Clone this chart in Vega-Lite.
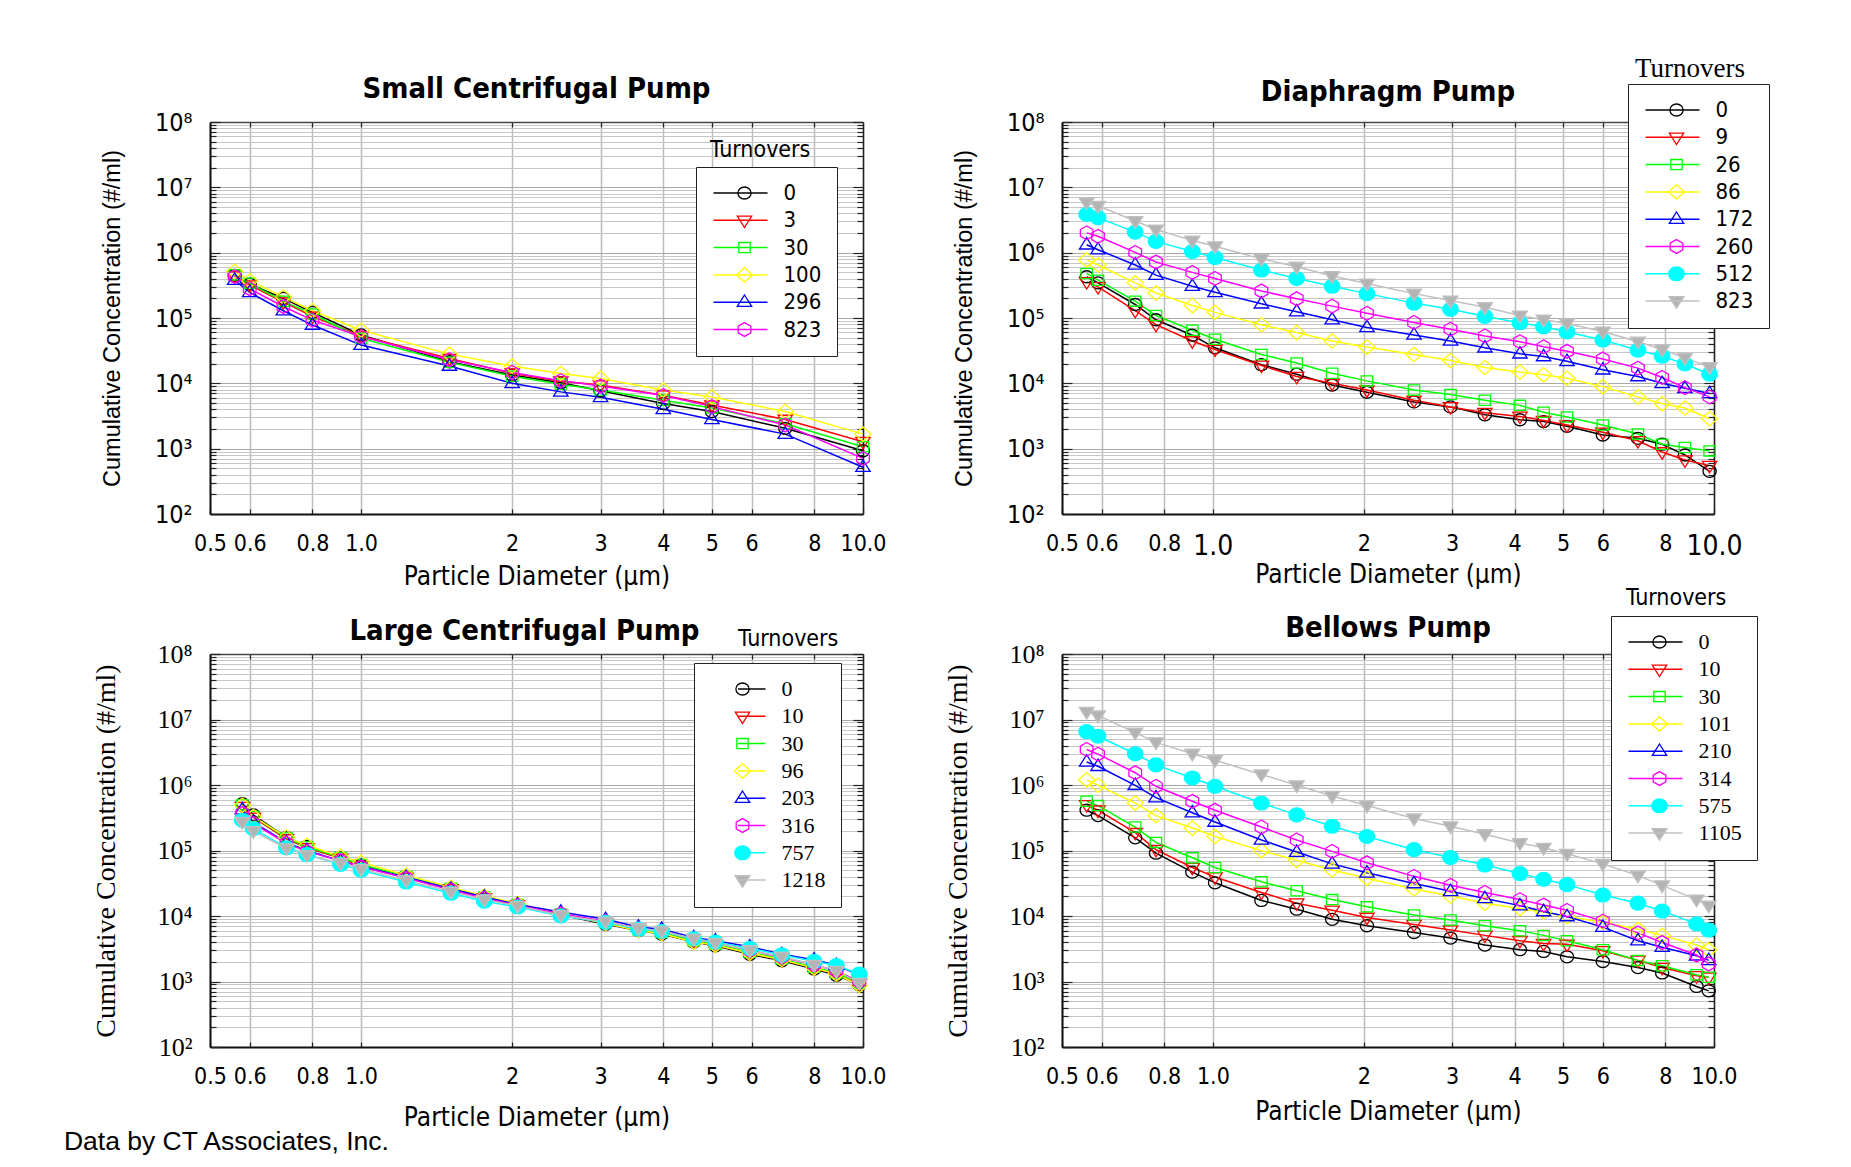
{
  "$schema": "https://vega.github.io/schema/vega-lite/v6.json",
  "background": "white",
  "padding": {"left": 63, "top": 75, "right": 10, "bottom": 10},
  "title": {
    "text": "Data by CT Associates, Inc.",
    "orient": "bottom", "anchor": "start", "frame": "bounds",
    "font": "Liberation Sans, Arial, sans-serif", "fontSize": 26.5, "fontWeight": "normal",
    "color": "black", "baseline": "alphabetic", "offset": 20, "dx": -29
  },
  "columns": 2,
  "bounds": "flush",
  "spacing": {"row": 140, "column": 199},
  "resolve": {"scale": {"color": "independent", "stroke": "independent", "shape": "independent", "fill": "independent"}},
  "config": {
    "view": {"stroke": null},
    "axis": {"labelOverlap": false, "labelFlush": false},
    "legend": {"labelLimit": 200}
  },
  "datasets": {
    "small": [
      {"t":"0","d":0.56,"c":450000},{"t":"0","d":0.6,"c":330000},{"t":"0","d":0.7,"c":200000},{"t":"0","d":0.8,"c":122000},{"t":"0","d":1,"c":55000},{"t":"0","d":1.5,"c":21400},{"t":"0","d":2,"c":13400},{"t":"0","d":2.5,"c":10200},{"t":"0","d":3,"c":7700},{"t":"0","d":4,"c":4900},{"t":"0","d":5,"c":3700},{"t":"0","d":7,"c":2050},{"t":"0","d":10,"c":930},
      {"t":"3","d":0.56,"c":440000},{"t":"3","d":0.6,"c":320000},{"t":"3","d":0.7,"c":175000},{"t":"3","d":0.8,"c":106000},{"t":"3","d":1,"c":53000},{"t":"3","d":1.5,"c":24000},{"t":"3","d":2,"c":14300},{"t":"3","d":2.5,"c":10800},{"t":"3","d":3,"c":9400},{"t":"3","d":4,"c":6600},{"t":"3","d":5,"c":4650},{"t":"3","d":7,"c":2800},{"t":"3","d":10,"c":1280},
      {"t":"30","d":0.56,"c":460000},{"t":"30","d":0.6,"c":340000},{"t":"30","d":0.7,"c":180000},{"t":"30","d":0.8,"c":115000},{"t":"30","d":1,"c":49000},{"t":"30","d":1.5,"c":21000},{"t":"30","d":2,"c":12800},{"t":"30","d":2.5,"c":9700},{"t":"30","d":3,"c":7900},{"t":"30","d":4,"c":5500},{"t":"30","d":5,"c":4200},{"t":"30","d":7,"c":2400},{"t":"30","d":10,"c":1070},
      {"t":"100","d":0.56,"c":520000},{"t":"100","d":0.6,"c":370000},{"t":"100","d":0.7,"c":210000},{"t":"100","d":0.8,"c":129000},{"t":"100","d":1,"c":65000},{"t":"100","d":1.5,"c":28000},{"t":"100","d":2,"c":18400},{"t":"100","d":2.5,"c":14200},{"t":"100","d":3,"c":11900},{"t":"100","d":4,"c":7900},{"t":"100","d":5,"c":6200},{"t":"100","d":7,"c":3700},{"t":"100","d":10,"c":1670},
      {"t":"296","d":0.56,"c":380000},{"t":"296","d":0.6,"c":246000},{"t":"296","d":0.7,"c":129000},{"t":"296","d":0.8,"c":78000},{"t":"296","d":1,"c":38500},{"t":"296","d":1.5,"c":18400},{"t":"296","d":2,"c":10000},{"t":"296","d":2.5,"c":7400},{"t":"296","d":3,"c":6100},{"t":"296","d":4,"c":4000},{"t":"296","d":5,"c":2800},{"t":"296","d":7,"c":1670},{"t":"296","d":10,"c":520},
      {"t":"823","d":0.56,"c":430000},{"t":"823","d":0.6,"c":280000},{"t":"823","d":0.7,"c":150000},{"t":"823","d":0.8,"c":93000},{"t":"823","d":1,"c":52000},{"t":"823","d":1.5,"c":23000},{"t":"823","d":2,"c":14700},{"t":"823","d":2.5,"c":11000},{"t":"823","d":3,"c":9100},{"t":"823","d":4,"c":6500},{"t":"823","d":5,"c":4400},{"t":"823","d":7,"c":2300},{"t":"823","d":10,"c":710}
    ],
    "diaphragm": [
      {"t":"0","d":0.56,"c":428000},{"t":"0","d":0.59,"c":345000},{"t":"0","d":0.7,"c":161000},{"t":"0","d":0.77,"c":94000},{"t":"0","d":0.91,"c":54500},{"t":"0","d":1.01,"c":35000},{"t":"0","d":1.25,"c":19300},{"t":"0","d":1.47,"c":13800},{"t":"0","d":1.73,"c":9400},{"t":"0","d":2.03,"c":7300},{"t":"0","d":2.52,"c":5200},{"t":"0","d":2.98,"c":4360},{"t":"0","d":3.49,"c":3300},{"t":"0","d":4.1,"c":2770},{"t":"0","d":4.57,"c":2600},{"t":"0","d":5.09,"c":2200},{"t":"0","d":6,"c":1620},{"t":"0","d":7.05,"c":1440},{"t":"0","d":7.88,"c":1170},{"t":"0","d":8.75,"c":800},{"t":"0","d":9.8,"c":450},
      {"t":"9","d":0.56,"c":357000},{"t":"9","d":0.59,"c":299000},{"t":"9","d":0.7,"c":130000},{"t":"9","d":0.77,"c":79000},{"t":"9","d":0.91,"c":44500},{"t":"9","d":1.01,"c":33000},{"t":"9","d":1.25,"c":18800},{"t":"9","d":1.47,"c":12700},{"t":"9","d":1.73,"c":10000},{"t":"9","d":2.03,"c":7900},{"t":"9","d":2.52,"c":5500},{"t":"9","d":2.98,"c":4360},{"t":"9","d":3.49,"c":3560},{"t":"9","d":4.1,"c":3120},{"t":"9","d":4.57,"c":2700},{"t":"9","d":5.09,"c":2300},{"t":"9","d":6,"c":1780},{"t":"9","d":7.05,"c":1320},{"t":"9","d":7.88,"c":890},{"t":"9","d":8.75,"c":670},{"t":"9","d":9.8,"c":550},
      {"t":"26","d":0.56,"c":481000},{"t":"26","d":0.59,"c":379000},{"t":"26","d":0.7,"c":181000},{"t":"26","d":0.77,"c":109000},{"t":"26","d":0.91,"c":65000},{"t":"26","d":1.01,"c":47200},{"t":"26","d":1.25,"c":27600},{"t":"26","d":1.47,"c":20500},{"t":"26","d":1.73,"c":14300},{"t":"26","d":2.03,"c":10900},{"t":"26","d":2.52,"c":7900},{"t":"26","d":2.98,"c":6760},{"t":"26","d":3.49,"c":5500},{"t":"26","d":4.1,"c":4600},{"t":"26","d":4.57,"c":3600},{"t":"26","d":5.09,"c":3050},{"t":"26","d":6,"c":2300},{"t":"26","d":7.05,"c":1680},{"t":"26","d":7.88,"c":1170},{"t":"26","d":8.75,"c":1040},{"t":"26","d":9.8,"c":925},
      {"t":"86","d":0.56,"c":775000},{"t":"86","d":0.59,"c":648000},{"t":"86","d":0.7,"c":345000},{"t":"86","d":0.77,"c":241000},{"t":"86","d":0.91,"c":155000},{"t":"86","d":1.01,"c":122000},{"t":"86","d":1.25,"c":78700},{"t":"86","d":1.47,"c":59800},{"t":"86","d":1.73,"c":44500},{"t":"86","d":2.03,"c":35900},{"t":"86","d":2.52,"c":27600},{"t":"86","d":2.98,"c":22300},{"t":"86","d":3.49,"c":17500},{"t":"86","d":4.1,"c":14900},{"t":"86","d":4.57,"c":13500},{"t":"86","d":5.09,"c":12000},{"t":"86","d":6,"c":8900},{"t":"86","d":7.05,"c":6200},{"t":"86","d":7.88,"c":4900},{"t":"86","d":8.75,"c":4200},{"t":"86","d":9.8,"c":2870},
      {"t":"172","d":0.56,"c":1320000},{"t":"172","d":0.59,"c":1110000},{"t":"172","d":0.7,"c":648000},{"t":"172","d":0.77,"c":453000},{"t":"172","d":0.91,"c":306000},{"t":"172","d":1.01,"c":247000},{"t":"172","d":1.25,"c":165000},{"t":"172","d":1.47,"c":125000},{"t":"172","d":1.73,"c":94000},{"t":"172","d":2.03,"c":71500},{"t":"172","d":2.52,"c":55000},{"t":"172","d":2.98,"c":44500},{"t":"172","d":3.49,"c":35000},{"t":"172","d":4.1,"c":28300},{"t":"172","d":4.57,"c":25700},{"t":"172","d":5.09,"c":21700},{"t":"172","d":6,"c":16100},{"t":"172","d":7.05,"c":12700},{"t":"172","d":7.88,"c":10000},{"t":"172","d":8.75,"c":8400},{"t":"172","d":9.8,"c":7000},
      {"t":"260","d":0.56,"c":2010000},{"t":"260","d":0.59,"c":1780000},{"t":"260","d":0.7,"c":1010000},{"t":"260","d":0.77,"c":720000},{"t":"260","d":0.91,"c":499000},{"t":"260","d":1.01,"c":403000},{"t":"260","d":1.25,"c":259000},{"t":"260","d":1.47,"c":197000},{"t":"260","d":1.73,"c":152000},{"t":"260","d":2.03,"c":118000},{"t":"260","d":2.52,"c":85500},{"t":"260","d":2.98,"c":67500},{"t":"260","d":3.49,"c":53100},{"t":"260","d":4.1,"c":43400},{"t":"260","d":4.57,"c":36200},{"t":"260","d":5.09,"c":31000},{"t":"260","d":6,"c":23600},{"t":"260","d":7.05,"c":17100},{"t":"260","d":7.88,"c":12300},{"t":"260","d":8.75,"c":8600},{"t":"260","d":9.8,"c":6200},
      {"t":"512","d":0.56,"c":3870000},{"t":"512","d":0.59,"c":3440000},{"t":"512","d":0.7,"c":2060000},{"t":"512","d":0.77,"c":1490000},{"t":"512","d":0.91,"c":1040000},{"t":"512","d":1.01,"c":843000},{"t":"512","d":1.25,"c":542000},{"t":"512","d":1.47,"c":403000},{"t":"512","d":1.73,"c":306000},{"t":"512","d":2.03,"c":236000},{"t":"512","d":2.52,"c":169000},{"t":"512","d":2.98,"c":136000},{"t":"512","d":3.49,"c":106000},{"t":"512","d":4.1,"c":84500},{"t":"512","d":4.57,"c":73300},{"t":"512","d":5.09,"c":61200},{"t":"512","d":6,"c":46000},{"t":"512","d":7.05,"c":32200},{"t":"512","d":7.88,"c":26000},{"t":"512","d":8.75,"c":19800},{"t":"512","d":9.8,"c":13800},
      {"t":"823","d":0.56,"c":5870000},{"t":"823","d":0.59,"c":5210000},{"t":"823","d":0.7,"c":3050000},{"t":"823","d":0.77,"c":2260000},{"t":"823","d":0.91,"c":1530000},{"t":"823","d":1.01,"c":1250000},{"t":"823","d":1.25,"c":803000},{"t":"823","d":1.47,"c":610000},{"t":"823","d":1.73,"c":438000},{"t":"823","d":2.03,"c":337000},{"t":"823","d":2.52,"c":236000},{"t":"823","d":2.98,"c":185000},{"t":"823","d":3.49,"c":146000},{"t":"823","d":4.1,"c":109000},{"t":"823","d":4.57,"c":94000},{"t":"823","d":5.09,"c":82600},{"t":"823","d":6,"c":62000},{"t":"823","d":7.05,"c":43400},{"t":"823","d":7.88,"c":33000},{"t":"823","d":8.75,"c":24500},{"t":"823","d":9.8,"c":17700}
    ],
    "large": [
      {"t":"0","d":0.58,"c":520000},{"t":"0","d":0.61,"c":350000},{"t":"0","d":0.71,"c":158000},{"t":"0","d":0.78,"c":116000},{"t":"0","d":0.91,"c":77000},{"t":"0","d":1,"c":60000},{"t":"0","d":1.23,"c":39000},{"t":"0","d":1.51,"c":25800},{"t":"0","d":1.76,"c":19000},{"t":"0","d":2.05,"c":14500},{"t":"0","d":2.5,"c":10400},{"t":"0","d":3.07,"c":7500},{"t":"0","d":3.57,"c":6000},{"t":"0","d":3.97,"c":5300},{"t":"0","d":4.6,"c":4000},{"t":"0","d":5.08,"c":3500},{"t":"0","d":5.95,"c":2600},{"t":"0","d":6.89,"c":2070},{"t":"0","d":7.99,"c":1550},{"t":"0","d":8.85,"c":1250},{"t":"0","d":9.83,"c":890},
      {"t":"10","d":0.58,"c":470000},{"t":"10","d":0.61,"c":320000},{"t":"10","d":0.71,"c":150000},{"t":"10","d":0.78,"c":110000},{"t":"10","d":0.91,"c":76000},{"t":"10","d":1,"c":59000},{"t":"10","d":1.23,"c":39000},{"t":"10","d":1.51,"c":26000},{"t":"10","d":1.76,"c":19000},{"t":"10","d":2.05,"c":14700},{"t":"10","d":2.5,"c":10500},{"t":"10","d":3.07,"c":7700},{"t":"10","d":3.57,"c":6100},{"t":"10","d":3.97,"c":5500},{"t":"10","d":4.6,"c":4100},{"t":"10","d":5.08,"c":3600},{"t":"10","d":5.95,"c":2700},{"t":"10","d":6.89,"c":2150},{"t":"10","d":7.99,"c":1600},{"t":"10","d":8.85,"c":1300},{"t":"10","d":9.83,"c":940},
      {"t":"30","d":0.58,"c":500000},{"t":"30","d":0.61,"c":330000},{"t":"30","d":0.71,"c":155000},{"t":"30","d":0.78,"c":114000},{"t":"30","d":0.91,"c":78000},{"t":"30","d":1,"c":61000},{"t":"30","d":1.23,"c":40000},{"t":"30","d":1.51,"c":26500},{"t":"30","d":1.76,"c":19500},{"t":"30","d":2.05,"c":15000},{"t":"30","d":2.5,"c":10700},{"t":"30","d":3.07,"c":7900},{"t":"30","d":3.57,"c":6200},{"t":"30","d":3.97,"c":5600},{"t":"30","d":4.6,"c":4200},{"t":"30","d":5.08,"c":3700},{"t":"30","d":5.95,"c":2800},{"t":"30","d":6.89,"c":2200},{"t":"30","d":7.99,"c":1650},{"t":"30","d":8.85,"c":1350},{"t":"30","d":9.83,"c":960},
      {"t":"96","d":0.58,"c":490000},{"t":"96","d":0.61,"c":330000},{"t":"96","d":0.71,"c":160000},{"t":"96","d":0.78,"c":120000},{"t":"96","d":0.91,"c":81000},{"t":"96","d":1,"c":66000},{"t":"96","d":1.23,"c":42000},{"t":"96","d":1.51,"c":27500},{"t":"96","d":1.76,"c":20200},{"t":"96","d":2.05,"c":15500},{"t":"96","d":2.5,"c":10800},{"t":"96","d":3.07,"c":7700},{"t":"96","d":3.57,"c":6000},{"t":"96","d":3.97,"c":5400},{"t":"96","d":4.6,"c":4000},{"t":"96","d":5.08,"c":3600},{"t":"96","d":5.95,"c":2700},{"t":"96","d":6.89,"c":2150},{"t":"96","d":7.99,"c":1600},{"t":"96","d":8.85,"c":1300},{"t":"96","d":9.83,"c":870},
      {"t":"203","d":0.58,"c":420000},{"t":"203","d":0.61,"c":270000},{"t":"203","d":0.71,"c":132000},{"t":"203","d":0.78,"c":100000},{"t":"203","d":0.91,"c":69000},{"t":"203","d":1,"c":57000},{"t":"203","d":1.23,"c":39000},{"t":"203","d":1.51,"c":26000},{"t":"203","d":1.76,"c":19500},{"t":"203","d":2.05,"c":15000},{"t":"203","d":2.5,"c":11500},{"t":"203","d":3.07,"c":8900},{"t":"203","d":3.57,"c":6800},{"t":"203","d":3.97,"c":6300},{"t":"203","d":4.6,"c":4700},{"t":"203","d":5.08,"c":4200},{"t":"203","d":5.95,"c":3400},{"t":"203","d":6.89,"c":2600},{"t":"203","d":7.99,"c":2150},{"t":"203","d":8.85,"c":1770},{"t":"203","d":9.83,"c":1250},
      {"t":"316","d":0.58,"c":370000},{"t":"316","d":0.61,"c":258000},{"t":"316","d":0.71,"c":129000},{"t":"316","d":0.78,"c":97000},{"t":"316","d":0.91,"c":70000},{"t":"316","d":1,"c":56000},{"t":"316","d":1.23,"c":38000},{"t":"316","d":1.51,"c":25000},{"t":"316","d":1.76,"c":18700},{"t":"316","d":2.05,"c":14500},{"t":"316","d":2.5,"c":10800},{"t":"316","d":3.07,"c":8300},{"t":"316","d":3.57,"c":6400},{"t":"316","d":3.97,"c":5900},{"t":"316","d":4.6,"c":4400},{"t":"316","d":5.08,"c":3900},{"t":"316","d":5.95,"c":3000},{"t":"316","d":6.89,"c":2350},{"t":"316","d":7.99,"c":1800},{"t":"316","d":8.85,"c":1450},{"t":"316","d":9.83,"c":1000},
      {"t":"757","d":0.58,"c":290000},{"t":"757","d":0.61,"c":215000},{"t":"757","d":0.71,"c":110000},{"t":"757","d":0.78,"c":86500},{"t":"757","d":0.91,"c":61500},{"t":"757","d":1,"c":50000},{"t":"757","d":1.23,"c":33000},{"t":"757","d":1.51,"c":22200},{"t":"757","d":1.76,"c":16800},{"t":"757","d":2.05,"c":13700},{"t":"757","d":2.5,"c":10000},{"t":"757","d":3.07,"c":8000},{"t":"757","d":3.57,"c":6300},{"t":"757","d":3.97,"c":5800},{"t":"757","d":4.6,"c":4500},{"t":"757","d":5.08,"c":4000},{"t":"757","d":5.95,"c":3200},{"t":"757","d":6.89,"c":2550},{"t":"757","d":7.99,"c":2030},{"t":"757","d":8.85,"c":1750},{"t":"757","d":9.83,"c":1300},
      {"t":"1218","d":0.58,"c":273000},{"t":"1218","d":0.61,"c":197000},{"t":"1218","d":0.71,"c":108000},{"t":"1218","d":0.78,"c":85000},{"t":"1218","d":0.91,"c":64000},{"t":"1218","d":1,"c":52000},{"t":"1218","d":1.23,"c":35000},{"t":"1218","d":1.51,"c":23400},{"t":"1218","d":1.76,"c":17800},{"t":"1218","d":2.05,"c":14200},{"t":"1218","d":2.5,"c":10300},{"t":"1218","d":3.07,"c":8200},{"t":"1218","d":3.57,"c":6500},{"t":"1218","d":3.97,"c":5900},{"t":"1218","d":4.6,"c":4500},{"t":"1218","d":5.08,"c":3900},{"t":"1218","d":5.95,"c":3000},{"t":"1218","d":6.89,"c":2400},{"t":"1218","d":7.99,"c":1800},{"t":"1218","d":8.85,"c":1450},{"t":"1218","d":9.83,"c":950}
    ],
    "bellows": [
      {"t":"0","d":0.56,"c":412000},{"t":"0","d":0.59,"c":341000},{"t":"0","d":0.7,"c":156000},{"t":"0","d":0.77,"c":91000},{"t":"0","d":0.91,"c":46800},{"t":"0","d":1.01,"c":32100},{"t":"0","d":1.25,"c":17300},{"t":"0","d":1.47,"c":12700},{"t":"0","d":1.73,"c":8900},{"t":"0","d":2.03,"c":7100},{"t":"0","d":2.52,"c":5600},{"t":"0","d":2.98,"c":4600},{"t":"0","d":3.49,"c":3600},{"t":"0","d":4.1,"c":3060},{"t":"0","d":4.57,"c":2880},{"t":"0","d":5.09,"c":2380},{"t":"0","d":6,"c":2020},{"t":"0","d":7.05,"c":1630},{"t":"0","d":7.88,"c":1350},{"t":"0","d":9.23,"c":840},{"t":"0","d":9.76,"c":720},
      {"t":"10","d":0.56,"c":498000},{"t":"10","d":0.59,"c":412000},{"t":"10","d":0.7,"c":187000},{"t":"10","d":0.77,"c":103000},{"t":"10","d":0.91,"c":55000},{"t":"10","d":1.01,"c":39300},{"t":"10","d":1.25,"c":22900},{"t":"10","d":1.47,"c":15700},{"t":"10","d":1.73,"c":12200},{"t":"10","d":2.03,"c":9500},{"t":"10","d":2.52,"c":7400},{"t":"10","d":2.98,"c":6100},{"t":"10","d":3.49,"c":5060},{"t":"10","d":4.1,"c":4200},{"t":"10","d":4.57,"c":3800},{"t":"10","d":5.09,"c":3700},{"t":"10","d":6,"c":2950},{"t":"10","d":7.05,"c":2100},{"t":"10","d":7.88,"c":1630},{"t":"10","d":9.23,"c":1220},{"t":"10","d":9.76,"c":1160},
      {"t":"30","d":0.56,"c":564000},{"t":"30","d":0.59,"c":485000},{"t":"30","d":0.7,"c":228000},{"t":"30","d":0.77,"c":133000},{"t":"30","d":0.91,"c":77400},{"t":"30","d":1.01,"c":55000},{"t":"30","d":1.25,"c":33300},{"t":"30","d":1.47,"c":24300},{"t":"30","d":1.73,"c":17800},{"t":"30","d":2.03,"c":13800},{"t":"30","d":2.52,"c":10400},{"t":"30","d":2.98,"c":8700},{"t":"30","d":3.49,"c":7100},{"t":"30","d":4.1,"c":5960},{"t":"30","d":4.57,"c":5060},{"t":"30","d":5.09,"c":4200},{"t":"30","d":6,"c":3060},{"t":"30","d":7.05,"c":2100},{"t":"30","d":7.88,"c":1740},{"t":"30","d":9.23,"c":1270},{"t":"30","d":9.76,"c":1160},
      {"t":"101","d":0.56,"c":1200000},{"t":"101","d":0.59,"c":990000},{"t":"101","d":0.7,"c":530000},{"t":"101","d":0.77,"c":341000},{"t":"101","d":0.91,"c":220000},{"t":"101","d":1.01,"c":164000},{"t":"101","d":1.25,"c":99500},{"t":"101","d":1.47,"c":70800},{"t":"101","d":1.73,"c":50500},{"t":"101","d":2.03,"c":37800},{"t":"101","d":2.52,"c":25900},{"t":"101","d":2.98,"c":20200},{"t":"101","d":3.49,"c":15700},{"t":"101","d":4.1,"c":13000},{"t":"101","d":4.57,"c":11500},{"t":"101","d":5.09,"c":9800},{"t":"101","d":6,"c":8050},{"t":"101","d":7.05,"c":6270},{"t":"101","d":7.88,"c":5060},{"t":"101","d":9.23,"c":3600},{"t":"101","d":9.76,"c":3060},
      {"t":"210","d":0.56,"c":2250000},{"t":"210","d":0.59,"c":1930000},{"t":"210","d":0.7,"c":990000},{"t":"210","d":0.77,"c":640000},{"t":"210","d":0.91,"c":377000},{"t":"210","d":1.01,"c":272000},{"t":"210","d":1.25,"c":145000},{"t":"210","d":1.47,"c":94600},{"t":"210","d":1.73,"c":62500},{"t":"210","d":2.03,"c":45600},{"t":"210","d":2.52,"c":31300},{"t":"210","d":2.98,"c":23800},{"t":"210","d":3.49,"c":18500},{"t":"210","d":4.1,"c":14400},{"t":"210","d":4.57,"c":11700},{"t":"210","d":5.09,"c":9800},{"t":"210","d":6,"c":6760},{"t":"210","d":7.05,"c":4200},{"t":"210","d":7.88,"c":3340},{"t":"210","d":9.23,"c":2470},{"t":"210","d":9.76,"c":2100},
      {"t":"314","d":0.56,"c":3490000},{"t":"314","d":0.59,"c":2960000},{"t":"314","d":0.7,"c":1540000},{"t":"314","d":0.77,"c":955000},{"t":"314","d":0.91,"c":564000},{"t":"314","d":1.01,"c":412000},{"t":"314","d":1.25,"c":228000},{"t":"314","d":1.47,"c":145000},{"t":"314","d":1.73,"c":97000},{"t":"314","d":2.03,"c":65000},{"t":"314","d":2.52,"c":40300},{"t":"314","d":2.98,"c":29400},{"t":"314","d":3.49,"c":22900},{"t":"314","d":4.1,"c":17800},{"t":"314","d":4.57,"c":14700},{"t":"314","d":5.09,"c":12200},{"t":"314","d":6,"c":8360},{"t":"314","d":7.05,"c":5520},{"t":"314","d":7.88,"c":3940},{"t":"314","d":9.23,"c":2540},{"t":"314","d":9.76,"c":1850},
      {"t":"575","d":0.56,"c":6540000},{"t":"575","d":0.59,"c":5560000},{"t":"575","d":0.7,"c":3000000},{"t":"575","d":0.77,"c":2030000},{"t":"575","d":0.91,"c":1280000},{"t":"575","d":1.01,"c":955000},{"t":"575","d":1.25,"c":530000},{"t":"575","d":1.47,"c":350000},{"t":"575","d":1.73,"c":234000},{"t":"575","d":2.03,"c":164000},{"t":"575","d":2.52,"c":103000},{"t":"575","d":2.98,"c":78300},{"t":"575","d":3.49,"c":60000},{"t":"575","d":4.1,"c":44500},{"t":"575","d":4.57,"c":36400},{"t":"575","d":5.09,"c":30100},{"t":"575","d":6,"c":20900},{"t":"575","d":7.05,"c":15700},{"t":"575","d":7.88,"c":11900},{"t":"575","d":9.23,"c":7570},{"t":"575","d":9.76,"c":6100},
      {"t":"1105","d":0.56,"c":13100000},{"t":"1105","d":0.59,"c":11500000},{"t":"1105","d":0.7,"c":6300000},{"t":"1105","d":0.77,"c":4480000},{"t":"1105","d":0.91,"c":3000000},{"t":"1105","d":1.01,"c":2390000},{"t":"1105","d":1.25,"c":1450000},{"t":"1105","d":1.47,"c":990000},{"t":"1105","d":1.73,"c":680000},{"t":"1105","d":2.03,"c":485000},{"t":"1105","d":2.52,"c":308000},{"t":"1105","d":2.98,"c":234000},{"t":"1105","d":3.49,"c":177000},{"t":"1105","d":4.1,"c":130000},{"t":"1105","d":4.57,"c":110000},{"t":"1105","d":5.09,"c":89000},{"t":"1105","d":6,"c":62500},{"t":"1105","d":7.05,"c":41300},{"t":"1105","d":7.88,"c":29400},{"t":"1105","d":9.23,"c":17800},{"t":"1105","d":9.76,"c":14400}
    ]
  },
  "concat": [
    {
      "width": 653, "height": 392,
      "data": {"name": "small"},
      "title": {"text": "Small Centrifugal Pump", "font": "DejaVu Sans Condensed, Liberation Sans Narrow, sans-serif", "fontSize": 29, "fontWeight": "bold", "color": "black", "anchor": "middle", "frame": "group", "baseline": "alphabetic", "offset": -17},
      "layer": [
        {
          "mark": {"type": "line", "strokeWidth": 1.5},
          "encoding": {
            "x": {"field": "d", "type": "quantitative", "scale": {"type": "log", "domain": [0.5, 10], "nice": false},
              "axis": {"orient": "bottom", "values": [0.5,0.6,0.8,1,2,3,4,5,6,8,10], "labelExpr": "datum.value == 1 ? '1.0' : datum.value == 10 ? '10.0' : datum.value < 1 ? format(datum.value, '.1f') : format(datum.value, 'd')", "title": "Particle Diameter (μm)", "titleFont": "DejaVu Sans Condensed, Liberation Sans Narrow, sans-serif", "titleFontSize": 26, "titleFontWeight": "normal", "titleColor": "black", "titlePadding": 8, "labelFont": "Liberation Sans Narrow, DejaVu Sans Condensed, sans-serif", "labelFontSize": 23, "labelColor": "black", "labelPadding": 23, "grid": true, "gridColor": "#bcbcbc", "gridWidth": 1.5, "tickSize": -5, "tickColor": "#222222", "tickWidth": 1.2, "domainColor": "#111111", "domainWidth": 2}},
            "y": {"field": "c", "type": "quantitative", "scale": {"type": "log", "domain": [100, 100000000], "nice": false},
              "axis": {"orient": "left", "values": [100,200,300,400,500,600,700,800,900,1000,2000,3000,4000,5000,6000,7000,8000,9000,10000,20000,30000,40000,50000,60000,70000,80000,90000,100000,200000,300000,400000,500000,600000,700000,800000,900000,1000000,2000000,3000000,4000000,5000000,6000000,7000000,8000000,9000000,10000000,20000000,30000000,40000000,50000000,60000000,70000000,80000000,90000000,100000000], "labelExpr": "indexof([100,1000,10000,100000,1000000,10000000,100000000], datum.value) >= 0 ? '10' + ['⁰','¹','²','³','⁴','⁵','⁶','⁷','⁸','⁹'][round(log(datum.value) / LN10)] : ''", "title": "Cumulative Concentration (#/ml)", "titleFont": "Liberation Sans, Arial, sans-serif", "titleFontSize": 23.5, "titleFontWeight": "normal", "titleColor": "black", "titlePadding": 30, "labelFont": "Liberation Sans Narrow, DejaVu Sans Condensed, sans-serif", "labelFontSize": 25, "labelColor": "black", "labelPadding": 28, "grid": true, "gridColor": {"condition": {"test": "indexof([100,1000,10000,100000,1000000,10000000,100000000], datum.value) >= 0", "value": "#a8a8a8"}, "value": "#c6c6c6"}, "gridWidth": 1, "tickSize": {"condition": {"test": "indexof([100,1000,10000,100000,1000000,10000000,100000000], datum.value) >= 0", "value": -10}, "value": -6}, "tickColor": "#222222", "tickWidth": 1.2, "domainColor": "#111111", "domainWidth": 2}},
            "stroke": {"field": "t", "type": "nominal", "scale": {"domain": ["0","3","30","100","296","823"], "range": ["#000000","#ff0000","#00ff00","#ffff00","#0000ff","#ff00ff"]},
              "legend": {"orient": "none", "legendX": 500, "legendY": 35, "direction": "vertical", "title": "Turnovers", "titleFont": "DejaVu Sans Condensed, Liberation Sans Narrow, sans-serif", "titleFontSize": 23, "titleFontWeight": "normal", "titleColor": "black", "titleAnchor": "start", "titleAlign": "left", "titleBaseline": "alphabetic", "titlePadding": 2, "labelExpr": "''", "labelFontSize": 22, "padding": 0, "rowPadding": 5.3, "clipHeight": 22, "symbolType": "stroke", "symbolSize": 2916, "symbolStrokeWidth": 1.5, "symbolOffset": 2.5, "labelOffset": 4}}
          }
        },
        {
          "mark": {"type": "point", "filled": false, "size": 144, "strokeWidth": 1.3, "opacity": 1},
          "encoding": {
            "x": {"field": "d", "type": "quantitative", "axis": {"orient": "top", "values": [0.6,0.8,1,2,3,4,5,6,8], "labels": false, "title": null, "grid": false, "tickSize": -5, "tickColor": "#222222", "tickWidth": 1.2, "domainColor": "#444444", "domainWidth": 1.5}},
            "y": {"field": "c", "type": "quantitative", "axis": {"orient": "right", "values": [100,200,300,400,500,600,700,800,900,1000,2000,3000,4000,5000,6000,7000,8000,9000,10000,20000,30000,40000,50000,60000,70000,80000,90000,100000,200000,300000,400000,500000,600000,700000,800000,900000,1000000,2000000,3000000,4000000,5000000,6000000,7000000,8000000,9000000,10000000,20000000,30000000,40000000,50000000,60000000,70000000,80000000,90000000,100000000], "labels": false, "title": null, "grid": false, "tickSize": {"condition": {"test": "indexof([100,1000,10000,100000,1000000,10000000,100000000], datum.value) >= 0", "value": -10}, "value": -6}, "tickColor": "#222222", "tickWidth": 1.2, "domainColor": "#222222", "domainWidth": 1.5}},
            "color": {"field": "t", "type": "nominal", "scale": {"domain": ["0","3","30","100","296","823"], "range": ["#000000","#ff0000","#00ff00","#ffff00","#0000ff","#ff00ff"]},
              "legend": {"orient": "none", "legendX": 486, "legendY": 45, "direction": "vertical", "title": null, "labelFont": "Liberation Sans Narrow, DejaVu Sans Condensed, sans-serif", "labelFontSize": 22, "labelColor": "black", "padding": 15, "rowPadding": 5.3, "clipHeight": 22, "strokeColor": "#222222", "fillColor": "white", "symbolSize": 144, "symbolStrokeWidth": 1.3, "symbolOffset": 22.5, "labelOffset": 28, "symbolFillColor": "transparent"}},
            "shape": {"field": "t", "type": "nominal", "scale": {"domain": ["0","3","30","100","296","823"], "range": ["M-1.1,0A1.1,1,0,1,0,1.1,0A1.1,1,0,1,0,-1.1,0Z","M-1.2,-0.7L1.2,-0.7L0,1.2Z","M-0.95,-0.85L0.95,-0.85L0.95,0.85L-0.95,0.85Z","M0,-1.2L1.35,0L0,1.2L-1.35,0Z","M0,-1.2L1.2,0.7L-1.2,0.7Z","M0,-1.15L1.05,-0.55L1.05,0.55L0,1.15L-1.05,0.55L-1.05,-0.55Z"]}},
            "fill": {"field": "t", "type": "nominal", "scale": {"domain": ["0","3","30","100","296","823"], "range": ["transparent","transparent","transparent","transparent","transparent","transparent"]}}
          }
        }
      ],
      "resolve": {"axis": {"x": "independent", "y": "independent"}, "legend": {"stroke": "independent"}}
    },
    {
      "width": 652, "height": 392,
      "data": {"name": "diaphragm"},
      "title": {"text": "Diaphragm Pump", "font": "DejaVu Sans Condensed, Liberation Sans Narrow, sans-serif", "fontSize": 29, "fontWeight": "bold", "color": "black", "anchor": "middle", "frame": "group", "baseline": "alphabetic", "offset": -53},
      "layer": [
        {
          "mark": {"type": "line", "strokeWidth": 1.5},
          "encoding": {
            "x": {"field": "d", "type": "quantitative", "scale": {"type": "log", "domain": [0.5, 10], "nice": false},
              "axis": {"orient": "bottom", "values": [0.5,0.6,0.8,1,2,3,4,5,6,8,10], "labelExpr": "datum.value == 1 ? '1.0' : datum.value == 10 ? '10.0' : datum.value < 1 ? format(datum.value, '.1f') : format(datum.value, 'd')", "title": "Particle Diameter (μm)", "titleFont": "DejaVu Sans Condensed, Liberation Sans Narrow, sans-serif", "titleFontSize": 26, "titleFontWeight": "normal", "titleColor": "black", "titlePadding": 1, "labelFont": "Liberation Sans Narrow, DejaVu Sans Condensed, sans-serif", "labelFontSize": {"condition": {"test": "datum.value == 1 || datum.value == 10", "value": 28}, "value": 23}, "labelColor": "black", "labelPadding": 23, "grid": true, "gridColor": "#bcbcbc", "gridWidth": 1.5, "tickSize": -5, "tickColor": "#222222", "tickWidth": 1.2, "domainColor": "#111111", "domainWidth": 2}},
            "y": {"field": "c", "type": "quantitative", "scale": {"type": "log", "domain": [100, 100000000], "nice": false},
              "axis": {"orient": "left", "values": [100,200,300,400,500,600,700,800,900,1000,2000,3000,4000,5000,6000,7000,8000,9000,10000,20000,30000,40000,50000,60000,70000,80000,90000,100000,200000,300000,400000,500000,600000,700000,800000,900000,1000000,2000000,3000000,4000000,5000000,6000000,7000000,8000000,9000000,10000000,20000000,30000000,40000000,50000000,60000000,70000000,80000000,90000000,100000000], "labelExpr": "indexof([100,1000,10000,100000,1000000,10000000,100000000], datum.value) >= 0 ? '10' + ['⁰','¹','²','³','⁴','⁵','⁶','⁷','⁸','⁹'][round(log(datum.value) / LN10)] : ''", "title": "Cumulative Concentration (#/ml)", "titleFont": "Liberation Sans, Arial, sans-serif", "titleFontSize": 23.5, "titleFontWeight": "normal", "titleColor": "black", "titlePadding": 30, "labelFont": "Liberation Sans Narrow, DejaVu Sans Condensed, sans-serif", "labelFontSize": 25, "labelColor": "black", "labelPadding": 28, "grid": true, "gridColor": {"condition": {"test": "indexof([100,1000,10000,100000,1000000,10000000,100000000], datum.value) >= 0", "value": "#a8a8a8"}, "value": "#c6c6c6"}, "gridWidth": 1, "tickSize": {"condition": {"test": "indexof([100,1000,10000,100000,1000000,10000000,100000000], datum.value) >= 0", "value": -10}, "value": -6}, "tickColor": "#222222", "tickWidth": 1.2, "domainColor": "#111111", "domainWidth": 2}},
            "stroke": {"field": "t", "type": "nominal", "scale": {"domain": ["0","9","26","86","172","260","512","823"], "range": ["#000000","#ff0000","#00ff00","#ffff00","#0000ff","#ff00ff","#00ffff","#c0c0c0"]},
              "legend": {"orient": "none", "legendX": 573, "legendY": -45, "direction": "vertical", "title": "Turnovers", "titleFont": "Liberation Serif, Times New Roman, serif", "titleFontSize": 27, "titleFontWeight": "normal", "titleColor": "black", "titleAnchor": "start", "titleAlign": "left", "titleBaseline": "alphabetic", "titlePadding": -5, "labelExpr": "''", "labelFontSize": 22, "padding": 0, "rowPadding": 5.3, "clipHeight": 22, "symbolType": "stroke", "symbolSize": 2916, "symbolStrokeWidth": 1.5, "symbolOffset": 9.5, "labelOffset": 4}}
          }
        },
        {
          "mark": {"type": "point", "filled": false, "size": 144, "strokeWidth": 1.3, "opacity": 1},
          "encoding": {
            "x": {"field": "d", "type": "quantitative", "axis": {"orient": "top", "values": [0.6,0.8,1,2,3,4,5,6,8], "labels": false, "title": null, "grid": false, "tickSize": -5, "tickColor": "#222222", "tickWidth": 1.2, "domainColor": "#444444", "domainWidth": 1.5}},
            "y": {"field": "c", "type": "quantitative", "axis": {"orient": "right", "values": [100,200,300,400,500,600,700,800,900,1000,2000,3000,4000,5000,6000,7000,8000,9000,10000,20000,30000,40000,50000,60000,70000,80000,90000,100000,200000,300000,400000,500000,600000,700000,800000,900000,1000000,2000000,3000000,4000000,5000000,6000000,7000000,8000000,9000000,10000000,20000000,30000000,40000000,50000000,60000000,70000000,80000000,90000000,100000000], "labels": false, "title": null, "grid": false, "tickSize": {"condition": {"test": "indexof([100,1000,10000,100000,1000000,10000000,100000000], datum.value) >= 0", "value": -10}, "value": -6}, "tickColor": "#222222", "tickWidth": 1.2, "domainColor": "#222222", "domainWidth": 1.5}},
            "color": {"field": "t", "type": "nominal", "scale": {"domain": ["0","9","26","86","172","260","512","823"], "range": ["#000000","#ff0000","#00ff00","#ffff00","#0000ff","#ff00ff","#00ffff","#c0c0c0"]},
              "legend": {"orient": "none", "legendX": 566, "legendY": -38, "direction": "vertical", "title": null, "labelFont": "Liberation Sans Narrow, DejaVu Sans Condensed, sans-serif", "labelFontSize": 22, "labelColor": "black", "padding": 15, "rowPadding": 5.3, "clipHeight": 22, "strokeColor": "#222222", "fillColor": "white", "symbolSize": 144, "symbolStrokeWidth": 1.3, "symbolOffset": 22.5, "labelOffset": 28, "symbolFillColor": "transparent"}},
            "shape": {"field": "t", "type": "nominal", "scale": {"domain": ["0","9","26","86","172","260","512","823"], "range": ["M-1.1,0A1.1,1,0,1,0,1.1,0A1.1,1,0,1,0,-1.1,0Z","M-1.2,-0.7L1.2,-0.7L0,1.2Z","M-0.95,-0.85L0.95,-0.85L0.95,0.85L-0.95,0.85Z","M0,-1.2L1.35,0L0,1.2L-1.35,0Z","M0,-1.2L1.2,0.7L-1.2,0.7Z","M0,-1.15L1.05,-0.55L1.05,0.55L0,1.15L-1.05,0.55L-1.05,-0.55Z","M-1.3,0A1.3,1.15,0,1,0,1.3,0A1.3,1.15,0,1,0,-1.3,0Z","M-1.25,-0.75L1.25,-0.75L0,1.2Z"]}},
            "fill": {"field": "t", "type": "nominal", "scale": {"domain": ["0","9","26","86","172","260","512","823"], "range": ["transparent","transparent","transparent","transparent","transparent","transparent","#00ffff","#b4b4b4"]}}
          }
        }
      ],
      "resolve": {"axis": {"x": "independent", "y": "independent"}, "legend": {"stroke": "independent"}}
    },
    {
      "width": 653, "height": 393,
      "data": {"name": "large"},
      "title": {"text": "Large Centrifugal Pump", "font": "DejaVu Sans Condensed, Liberation Sans Narrow, sans-serif", "fontSize": 29, "fontWeight": "bold", "color": "black", "anchor": "middle", "frame": "group", "baseline": "alphabetic", "offset": -28, "dx": -12},
      "layer": [
        {
          "mark": {"type": "line", "strokeWidth": 1.5},
          "encoding": {
            "x": {"field": "d", "type": "quantitative", "scale": {"type": "log", "domain": [0.5, 10], "nice": false},
              "axis": {"orient": "bottom", "values": [0.5,0.6,0.8,1,2,3,4,5,6,8,10], "labelExpr": "datum.value == 1 ? '1.0' : datum.value == 10 ? '10.0' : datum.value < 1 ? format(datum.value, '.1f') : format(datum.value, 'd')", "title": "Particle Diameter (μm)", "titleFont": "DejaVu Sans Condensed, Liberation Sans Narrow, sans-serif", "titleFontSize": 26, "titleFontWeight": "normal", "titleColor": "black", "titlePadding": 16, "labelFont": "Liberation Sans Narrow, DejaVu Sans Condensed, sans-serif", "labelFontSize": 23, "labelColor": "black", "labelPadding": 23, "grid": true, "gridColor": "#bcbcbc", "gridWidth": 1.5, "tickSize": -5, "tickColor": "#222222", "tickWidth": 1.2, "domainColor": "#111111", "domainWidth": 2}},
            "y": {"field": "c", "type": "quantitative", "scale": {"type": "log", "domain": [100, 100000000], "nice": false},
              "axis": {"orient": "left", "values": [100,200,300,400,500,600,700,800,900,1000,2000,3000,4000,5000,6000,7000,8000,9000,10000,20000,30000,40000,50000,60000,70000,80000,90000,100000,200000,300000,400000,500000,600000,700000,800000,900000,1000000,2000000,3000000,4000000,5000000,6000000,7000000,8000000,9000000,10000000,20000000,30000000,40000000,50000000,60000000,70000000,80000000,90000000,100000000], "labelExpr": "indexof([100,1000,10000,100000,1000000,10000000,100000000], datum.value) >= 0 ? '10' + ['⁰','¹','²','³','⁴','⁵','⁶','⁷','⁸','⁹'][round(log(datum.value) / LN10)] : ''", "title": "Cumulative Concentration (#/ml)", "titleFont": "Liberation Serif, Times New Roman, serif", "titleFontSize": 28, "titleFontWeight": "normal", "titleColor": "black", "titlePadding": 36, "labelFont": "Liberation Serif, Times New Roman, serif", "labelFontSize": 26, "labelColor": "black", "labelPadding": 28, "grid": true, "gridColor": {"condition": {"test": "indexof([100,1000,10000,100000,1000000,10000000,100000000], datum.value) >= 0", "value": "#a8a8a8"}, "value": "#c6c6c6"}, "gridWidth": 1, "tickSize": {"condition": {"test": "indexof([100,1000,10000,100000,1000000,10000000,100000000], datum.value) >= 0", "value": -10}, "value": -6}, "tickColor": "#222222", "tickWidth": 1.2, "domainColor": "#111111", "domainWidth": 2}},
            "stroke": {"field": "t", "type": "nominal", "scale": {"domain": ["0","10","30","96","203","316","757","1218"], "range": ["#000000","#ff0000","#00ff00","#ffff00","#0000ff","#ff00ff","#00ffff","#c0c0c0"]},
              "legend": {"orient": "none", "legendX": 528, "legendY": -8, "direction": "vertical", "title": "Turnovers", "titleFont": "DejaVu Sans Condensed, Liberation Sans Narrow, sans-serif", "titleFontSize": 23, "titleFontWeight": "normal", "titleColor": "black", "titleAnchor": "start", "titleAlign": "left", "titleBaseline": "alphabetic", "titlePadding": 9, "labelExpr": "''", "labelFontSize": 22, "padding": 0, "rowPadding": 5.3, "clipHeight": 22, "symbolType": "stroke", "symbolSize": 2916, "symbolStrokeWidth": 1.5, "symbolOffset": -27.5, "labelOffset": 4}}
          }
        },
        {
          "mark": {"type": "point", "filled": false, "size": 144, "strokeWidth": 1.3, "opacity": 1},
          "encoding": {
            "x": {"field": "d", "type": "quantitative", "axis": {"orient": "top", "values": [0.6,0.8,1,2,3,4,5,6,8], "labels": false, "title": null, "grid": false, "tickSize": -5, "tickColor": "#222222", "tickWidth": 1.2, "domainColor": "#444444", "domainWidth": 1.5}},
            "y": {"field": "c", "type": "quantitative", "axis": {"orient": "right", "values": [100,200,300,400,500,600,700,800,900,1000,2000,3000,4000,5000,6000,7000,8000,9000,10000,20000,30000,40000,50000,60000,70000,80000,90000,100000,200000,300000,400000,500000,600000,700000,800000,900000,1000000,2000000,3000000,4000000,5000000,6000000,7000000,8000000,9000000,10000000,20000000,30000000,40000000,50000000,60000000,70000000,80000000,90000000,100000000], "labels": false, "title": null, "grid": false, "tickSize": {"condition": {"test": "indexof([100,1000,10000,100000,1000000,10000000,100000000], datum.value) >= 0", "value": -10}, "value": -6}, "tickColor": "#222222", "tickWidth": 1.2, "domainColor": "#222222", "domainWidth": 1.5}},
            "color": {"field": "t", "type": "nominal", "scale": {"domain": ["0","10","30","96","203","316","757","1218"], "range": ["#000000","#ff0000","#00ff00","#ffff00","#0000ff","#ff00ff","#00ffff","#c0c0c0"]},
              "legend": {"orient": "none", "legendX": 484, "legendY": 9, "direction": "vertical", "title": null, "labelFont": "Liberation Serif, Times New Roman, serif", "labelFontSize": 22, "labelColor": "black", "padding": 15, "rowPadding": 5.3, "clipHeight": 22, "strokeColor": "#222222", "fillColor": "white", "symbolSize": 144, "symbolStrokeWidth": 1.3, "symbolOffset": 22.5, "labelOffset": 28, "symbolFillColor": "transparent"}},
            "shape": {"field": "t", "type": "nominal", "scale": {"domain": ["0","10","30","96","203","316","757","1218"], "range": ["M-1.1,0A1.1,1,0,1,0,1.1,0A1.1,1,0,1,0,-1.1,0Z","M-1.2,-0.7L1.2,-0.7L0,1.2Z","M-0.95,-0.85L0.95,-0.85L0.95,0.85L-0.95,0.85Z","M0,-1.2L1.35,0L0,1.2L-1.35,0Z","M0,-1.2L1.2,0.7L-1.2,0.7Z","M0,-1.15L1.05,-0.55L1.05,0.55L0,1.15L-1.05,0.55L-1.05,-0.55Z","M-1.3,0A1.3,1.15,0,1,0,1.3,0A1.3,1.15,0,1,0,-1.3,0Z","M-1.25,-0.75L1.25,-0.75L0,1.2Z"]}},
            "fill": {"field": "t", "type": "nominal", "scale": {"domain": ["0","10","30","96","203","316","757","1218"], "range": ["transparent","transparent","transparent","transparent","transparent","transparent","#00ffff","#b4b4b4"]}}
          }
        }
      ],
      "resolve": {"axis": {"x": "independent", "y": "independent"}, "legend": {"stroke": "independent"}}
    },
    {
      "width": 652, "height": 393,
      "data": {"name": "bellows"},
      "title": {"text": "Bellows Pump", "font": "DejaVu Sans Condensed, Liberation Sans Narrow, sans-serif", "fontSize": 29, "fontWeight": "bold", "color": "black", "anchor": "middle", "frame": "group", "baseline": "alphabetic", "offset": -61},
      "layer": [
        {
          "mark": {"type": "line", "strokeWidth": 1.5},
          "encoding": {
            "x": {"field": "d", "type": "quantitative", "scale": {"type": "log", "domain": [0.5, 10], "nice": false},
              "axis": {"orient": "bottom", "values": [0.5,0.6,0.8,1,2,3,4,5,6,8,10], "labelExpr": "datum.value == 1 ? '1.0' : datum.value == 10 ? '10.0' : datum.value < 1 ? format(datum.value, '.1f') : format(datum.value, 'd')", "title": "Particle Diameter (μm)", "titleFont": "DejaVu Sans Condensed, Liberation Sans Narrow, sans-serif", "titleFontSize": 26, "titleFontWeight": "normal", "titleColor": "black", "titlePadding": 10, "labelFont": "Liberation Sans Narrow, DejaVu Sans Condensed, sans-serif", "labelFontSize": 23, "labelColor": "black", "labelPadding": 23, "grid": true, "gridColor": "#bcbcbc", "gridWidth": 1.5, "tickSize": -5, "tickColor": "#222222", "tickWidth": 1.2, "domainColor": "#111111", "domainWidth": 2}},
            "y": {"field": "c", "type": "quantitative", "scale": {"type": "log", "domain": [100, 100000000], "nice": false},
              "axis": {"orient": "left", "values": [100,200,300,400,500,600,700,800,900,1000,2000,3000,4000,5000,6000,7000,8000,9000,10000,20000,30000,40000,50000,60000,70000,80000,90000,100000,200000,300000,400000,500000,600000,700000,800000,900000,1000000,2000000,3000000,4000000,5000000,6000000,7000000,8000000,9000000,10000000,20000000,30000000,40000000,50000000,60000000,70000000,80000000,90000000,100000000], "labelExpr": "indexof([100,1000,10000,100000,1000000,10000000,100000000], datum.value) >= 0 ? '10' + ['⁰','¹','²','³','⁴','⁵','⁶','⁷','⁸','⁹'][round(log(datum.value) / LN10)] : ''", "title": "Cumulative Concentration (#/ml)", "titleFont": "Liberation Serif, Times New Roman, serif", "titleFontSize": 28, "titleFontWeight": "normal", "titleColor": "black", "titlePadding": 36, "labelFont": "Liberation Serif, Times New Roman, serif", "labelFontSize": 26, "labelColor": "black", "labelPadding": 28, "grid": true, "gridColor": {"condition": {"test": "indexof([100,1000,10000,100000,1000000,10000000,100000000], datum.value) >= 0", "value": "#a8a8a8"}, "value": "#c6c6c6"}, "gridWidth": 1, "tickSize": {"condition": {"test": "indexof([100,1000,10000,100000,1000000,10000000,100000000], datum.value) >= 0", "value": -10}, "value": -6}, "tickColor": "#222222", "tickWidth": 1.2, "domainColor": "#111111", "domainWidth": 2}},
            "stroke": {"field": "t", "type": "nominal", "scale": {"domain": ["0","10","30","101","210","314","575","1105"], "range": ["#000000","#ff0000","#00ff00","#ffff00","#0000ff","#ff00ff","#00ffff","#c0c0c0"]},
              "legend": {"orient": "none", "legendX": 564, "legendY": -49, "direction": "vertical", "title": "Turnovers", "titleFont": "DejaVu Sans Condensed, Liberation Sans Narrow, sans-serif", "titleFontSize": 23, "titleFontWeight": "normal", "titleColor": "black", "titleAnchor": "start", "titleAlign": "left", "titleBaseline": "alphabetic", "titlePadding": 3, "labelExpr": "''", "labelFontSize": 22, "padding": 0, "rowPadding": 5.3, "clipHeight": 22, "symbolType": "stroke", "symbolSize": 2916, "symbolStrokeWidth": 1.5, "symbolOffset": 1.5, "labelOffset": 4}}
          }
        },
        {
          "mark": {"type": "point", "filled": false, "size": 144, "strokeWidth": 1.3, "opacity": 1},
          "encoding": {
            "x": {"field": "d", "type": "quantitative", "axis": {"orient": "top", "values": [0.6,0.8,1,2,3,4,5,6,8], "labels": false, "title": null, "grid": false, "tickSize": -5, "tickColor": "#222222", "tickWidth": 1.2, "domainColor": "#444444", "domainWidth": 1.5}},
            "y": {"field": "c", "type": "quantitative", "axis": {"orient": "right", "values": [100,200,300,400,500,600,700,800,900,1000,2000,3000,4000,5000,6000,7000,8000,9000,10000,20000,30000,40000,50000,60000,70000,80000,90000,100000,200000,300000,400000,500000,600000,700000,800000,900000,1000000,2000000,3000000,4000000,5000000,6000000,7000000,8000000,9000000,10000000,20000000,30000000,40000000,50000000,60000000,70000000,80000000,90000000,100000000], "labels": false, "title": null, "grid": false, "tickSize": {"condition": {"test": "indexof([100,1000,10000,100000,1000000,10000000,100000000], datum.value) >= 0", "value": -10}, "value": -6}, "tickColor": "#222222", "tickWidth": 1.2, "domainColor": "#222222", "domainWidth": 1.5}},
            "color": {"field": "t", "type": "nominal", "scale": {"domain": ["0","10","30","101","210","314","575","1105"], "range": ["#000000","#ff0000","#00ff00","#ffff00","#0000ff","#ff00ff","#00ffff","#c0c0c0"]},
              "legend": {"orient": "none", "legendX": 549, "legendY": -38, "direction": "vertical", "title": null, "labelFont": "Liberation Serif, Times New Roman, serif", "labelFontSize": 22, "labelColor": "black", "padding": 15, "rowPadding": 5.3, "clipHeight": 22, "strokeColor": "#222222", "fillColor": "white", "symbolSize": 144, "symbolStrokeWidth": 1.3, "symbolOffset": 22.5, "labelOffset": 28, "symbolFillColor": "transparent"}},
            "shape": {"field": "t", "type": "nominal", "scale": {"domain": ["0","10","30","101","210","314","575","1105"], "range": ["M-1.1,0A1.1,1,0,1,0,1.1,0A1.1,1,0,1,0,-1.1,0Z","M-1.2,-0.7L1.2,-0.7L0,1.2Z","M-0.95,-0.85L0.95,-0.85L0.95,0.85L-0.95,0.85Z","M0,-1.2L1.35,0L0,1.2L-1.35,0Z","M0,-1.2L1.2,0.7L-1.2,0.7Z","M0,-1.15L1.05,-0.55L1.05,0.55L0,1.15L-1.05,0.55L-1.05,-0.55Z","M-1.3,0A1.3,1.15,0,1,0,1.3,0A1.3,1.15,0,1,0,-1.3,0Z","M-1.25,-0.75L1.25,-0.75L0,1.2Z"]}},
            "fill": {"field": "t", "type": "nominal", "scale": {"domain": ["0","10","30","101","210","314","575","1105"], "range": ["transparent","transparent","transparent","transparent","transparent","transparent","#00ffff","#b4b4b4"]}}
          }
        }
      ],
      "resolve": {"axis": {"x": "independent", "y": "independent"}, "legend": {"stroke": "independent"}}
    }
  ]
}
